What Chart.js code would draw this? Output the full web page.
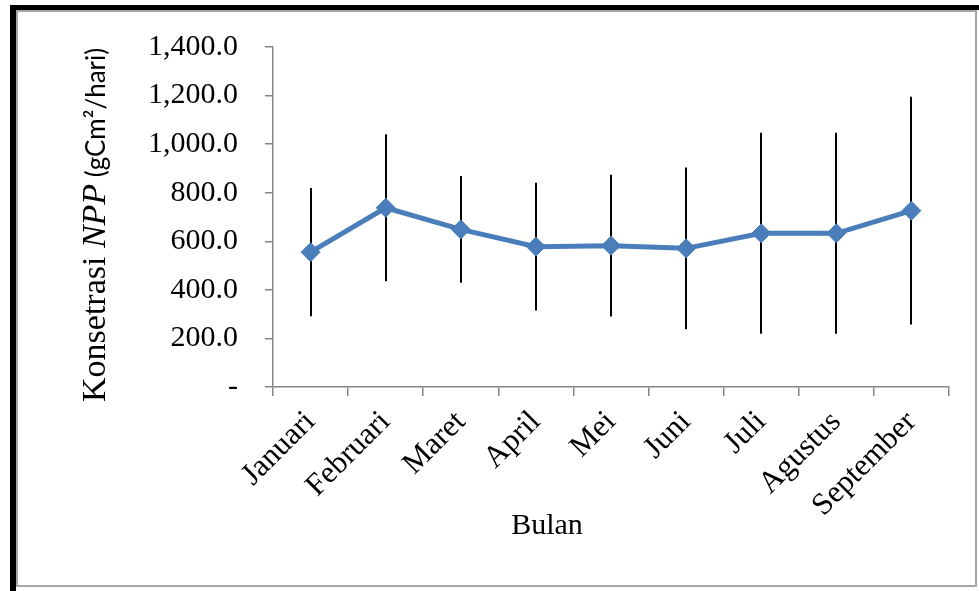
<!DOCTYPE html>
<html><head><meta charset="utf-8">
<script src="https://cdn.jsdelivr.net/npm/chart.js@4/dist/chart.umd.min.js"></script>
<style>
html,body{margin:0;padding:0;background:#fff;}
#wrap{position:relative;width:979px;height:591px;overflow:hidden;background:#fff;}
.blk{position:absolute;background:#000;}
#box{position:absolute;left:16px;top:10px;width:961px;height:577px;border:2px solid #a6a6a6;box-sizing:border-box;}
canvas{position:absolute;left:0;top:0;}
</style></head>
<body>
<div id="wrap">
  <div id="box"></div>
  <div class="blk" style="left:10px;top:5px;width:6px;height:586px;"></div>
  <div class="blk" style="left:10px;top:5px;width:969px;height:5px;"></div>
  <canvas id="c" width="979" height="591"></canvas>
</div>
<script>
const months = ['Januari','Februari','Maret','April','Mei','Juni','Juli','Agustus','September'];
const npp = [555, 738, 649, 578, 582, 571, 633, 633, 726];
const sd = [264, 303, 220, 263, 292, 333, 414, 414, 469];
const yTickValues = [0, 200, 400, 600, 800, 1000, 1200, 1400];
const xTitle = 'Bulan';
const yTitleParts = ['Konsetrasi ', 'NPP', ' (gCm\u00B2/hari)'];

const fmt = v => v === 0 ? '-' : v.toLocaleString('en-US', {minimumFractionDigits: 1, maximumFractionDigits: 1});

const errorBars = {
  id: 'errorBars',
  beforeDatasetsDraw(chart) {
    const {ctx, scales: {x, y}} = chart;
    ctx.save();
    ctx.strokeStyle = '#000';
    ctx.lineWidth = 2;
    npp.forEach((v, i) => {
      const px = Math.round(x.getPixelForValue(i));
      ctx.beginPath();
      ctx.moveTo(px, y.getPixelForValue(v + sd[i]));
      ctx.lineTo(px, y.getPixelForValue(v - sd[i]));
      ctx.stroke();
    });
    ctx.restore();
  }
};

const titles = {
  id: 'titles',
  afterDraw(chart) {
    const ctx = chart.ctx;
    ctx.save();
    ctx.fillStyle = '#000';
    ctx.font = '30px "Liberation Serif"';
    ctx.textAlign = 'center';
    ctx.textBaseline = 'alphabetic';
    ctx.fillText(xTitle, 547, 534);
    ctx.translate(105, 402);
    ctx.rotate(-Math.PI / 2);
    ctx.textAlign = 'left';
    const fonts = ['34px "Liberation Serif"', 'italic 34px "Liberation Serif"', '26px Lato'];
    let xx = 0;
    yTitleParts.forEach((t, i) => {
      ctx.font = fonts[i];
      ctx.fillText(t, xx, 0);
      xx += ctx.measureText(t).width;
    });
    ctx.restore();
  }
};

function make() {
  new Chart(document.getElementById('c'), {
    type: 'line',
    data: {
      labels: months,
      datasets: [{
        data: npp,
        borderColor: '#4a7ebb',
        backgroundColor: '#4a7ebb',
        borderWidth: 5,
        pointStyle: 'rectRot',
        pointRadius: 9.5,
        pointBorderWidth: 1,
        pointBackgroundColor: '#4a7ebb',
        pointBorderColor: '#4a7ebb',
        tension: 0,
        fill: false
      }]
    },
    options: {
      responsive: false,
      devicePixelRatio: 1,
      animation: false,
      layout: {padding: {left: 120, right: 30, top: 47, bottom: 0}},
      plugins: {legend: {display: false}, tooltip: {enabled: false}},
      scales: {
        x: {
          offset: true,
          ticks: {color: '#000', font: {family: '"Liberation Serif"', size: 31}, minRotation: 45, maxRotation: 45, padding: 8, autoSkip: false},
          grid: {offset: true, drawOnChartArea: false, drawTicks: true, tickLength: 9, color: '#868686', lineWidth: 1.5},
          border: {display: true, color: '#868686', width: 1.5},
          afterFit(s) { s.height = 204; }
        },
        y: {
          min: 0, max: 1400,
          afterBuildTicks(s) { s.ticks = yTickValues.map(v => ({value: v})); },
          ticks: {color: '#000', font: {family: '"Liberation Serif"', size: 30}, padding: 27, callback: v => fmt(v)},
          grid: {drawOnChartArea: false, drawTicks: true, tickLength: 8, color: '#868686', lineWidth: 1.5},
          border: {display: true, color: '#868686', width: 1.5},
          afterFit(s) { s.width = 153; }
        }
      }
    },
    plugins: [errorBars, titles]
  });
}
Promise.all([
  document.fonts.load('30px "Liberation Serif"'),
  document.fonts.load('italic 30px "Liberation Serif"'),
  document.fonts.load('26px Lato')
]).then(make, make);
</script>
</body></html>
